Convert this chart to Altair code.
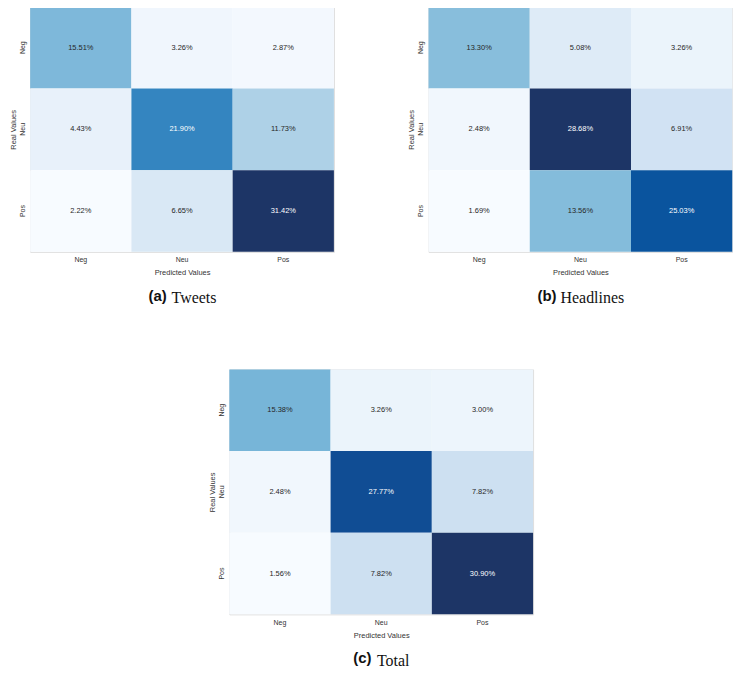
import altair as alt
import numpy as np
import pandas as pd

# ---------------- data ----------------
classes = ["Neg", "Neu", "Pos"]

tweets = [
    [15.51, 3.26, 2.87],
    [4.43, 21.90, 11.73],
    [2.22, 6.65, 31.42],
]
headlines = [
    [13.30, 5.08, 3.26],
    [2.48, 28.68, 6.91],
    [1.69, 13.56, 25.03],
]
total = [
    [15.38, 3.26, 3.00],
    [2.48, 27.77, 7.82],
    [1.56, 7.82, 30.90],
]

captions = [("(a)", "Tweets"), ("(b)", "Headlines"), ("(c)", "Total")]

# ---------------- style ----------------
BLUES = ["#f7fbff", "#deebf7", "#c6dbef", "#9ecae1", "#6baed6",
         "#4292c6", "#2171b5", "#08519c", "#1d3566"]
SANS = "Liberation Sans"
SERIF = "Liberation Serif"
TXT = "#333333"
W, H = 305, 246


def panel(mat, letter, word, letter_dx):
    rows = []
    for i, r in enumerate(classes):
        for j, p in enumerate(classes):
            rows.append({"real": r, "pred": p, "value": mat[i][j]})
    df = pd.DataFrame(rows)
    vmin, vmax = float(df.value.min()), float(df.value.max())
    dom = list(np.linspace(vmin, vmax, len(BLUES)))
    thr = vmin + 0.6 * (vmax - vmin)

    base = alt.Chart(df).transform_calculate(
        label="format(datum.value, '.2f') + '%'"
    )
    x = alt.X("pred:N", sort=classes, scale=alt.Scale(paddingInner=0, paddingOuter=0),
              axis=alt.Axis(title="Predicted Values", labelAngle=0, domain=False,
                            ticks=False, grid=False, labelFont=SANS, labelFontSize=7,
                            labelColor=TXT, labelPadding=4, titleFont=SANS,
                            titleFontSize=7.5, titleFontWeight="normal",
                            titleColor=TXT, titlePadding=6))
    y = alt.Y("real:N", sort=classes, scale=alt.Scale(paddingInner=0, paddingOuter=0),
              axis=alt.Axis(title="Real Values", labelAngle=-90, domain=False,
                            ticks=False, grid=False, labelFont=SANS, labelFontSize=7,
                            labelColor=TXT, labelPadding=5, titleFont=SANS,
                            titleFontSize=7.5, titleFontWeight="normal",
                            titleColor=TXT, titlePadding=1))
    rect = base.mark_rect(strokeWidth=0).encode(
        x=x, y=y,
        color=alt.Color("value:Q", scale=alt.Scale(domain=dom, range=BLUES),
                        legend=None),
    )
    text = base.mark_text(font=SANS, fontSize=7.5).encode(
        x=x, y=y, text="label:N",
        color=alt.condition(alt.datum.value > thr, alt.value("#ffffff"),
                            alt.value("#262626")),
    )
    inner = alt.layer(rect, text).properties(
        width=W, height=H,
        title=alt.TitleParams(word, orient="bottom", anchor="middle", frame="group",
                              font=SERIF, fontSize=16, fontWeight="normal",
                              color="#111111", offset=14, dx=12),
    )
    return alt.vconcat(inner, title=alt.TitleParams(
        letter, orient="bottom", anchor="middle", font=SANS, fontSize=15,
        fontWeight="bold", color="#111111", dx=letter_dx, dy=-18, offset=0))


pa = panel(tweets, *captions[0], letter_dx=-14)
pb = panel(headlines, *captions[1], letter_dx=-23)
pc = panel(total, *captions[2], letter_dx=-8.5)

top = alt.hconcat(pa, pb, spacing=72).resolve_scale(color="independent")
chart = alt.vconcat(top, pc, spacing=62, center=True).resolve_scale(
    color="independent"
).configure_view(stroke=None).configure(
    padding={"top": -3.5, "left": 0, "right": 0, "bottom": 0}, background="white")

chart.save("out.html", embed_options={"renderer": "svg", "actions": False})
